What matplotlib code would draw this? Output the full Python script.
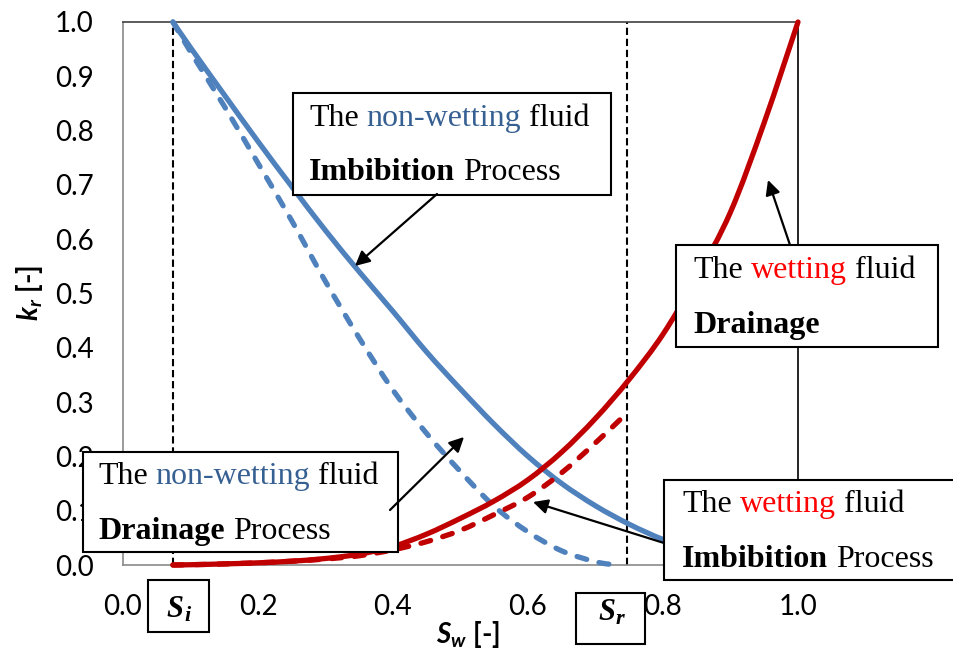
import matplotlib
matplotlib.use('Agg')
import matplotlib.pyplot as plt
from matplotlib.patches import Rectangle, FancyArrowPatch, PathPatch
from matplotlib.path import Path

W, H = 954, 654

# axis ticks
sw_ticks = [0.0, 0.2, 0.4, 0.6, 0.8, 1.0]
sw_tick_labels = ['0.0', '0.2', '0.4', '0.6', '0.8', '1.0']
kr_ticks = [0.0, 0.1, 0.2, 0.3, 0.4, 0.5, 0.6, 0.7, 0.8, 0.9, 1.0]
kr_tick_labels = ['0.0', '0.1', '0.2', '0.3', '0.4', '0.5', '0.6', '0.7', '0.8', '0.9', '1.0']

# end points (irreducible / residual saturation)
sw_i = 0.074
sw_r = 0.746

# non-wetting fluid, imbibition (solid blue)
sw_nw_imb = [0.074, 0.1, 0.15, 0.2, 0.25, 0.3, 0.35, 0.4, 0.45, 0.5, 0.55, 0.6,
             0.65, 0.7, 0.75, 0.8, 0.85, 0.9, 0.95]
kr_nw_imb = [1.0, 0.953, 0.866, 0.780, 0.697, 0.616, 0.540, 0.467, 0.392, 0.324,
             0.259, 0.200, 0.150, 0.109, 0.075, 0.047, 0.026, 0.012, 0.003]

# non-wetting fluid, drainage (dashed blue)
sw_nw_dr = [0.074, 0.1, 0.15, 0.2, 0.25, 0.3, 0.35, 0.4, 0.45, 0.5, 0.55, 0.6,
            0.65, 0.7, 0.73]
kr_nw_dr = [1.0, 0.945, 0.845, 0.74, 0.634, 0.522, 0.418, 0.322, 0.242, 0.172,
            0.108, 0.061, 0.026, 0.006, 0.0]

# wetting fluid, drainage (solid red)
sw_w_dr = [0.074, 0.1, 0.15, 0.2, 0.25, 0.3, 0.35, 0.4, 0.45, 0.5, 0.55, 0.6,
           0.65, 0.7, 0.75, 0.8, 0.85, 0.9, 0.95, 1.0]
kr_w_dr = [0.0, 0.0005, 0.002, 0.004, 0.007, 0.012, 0.020, 0.034, 0.057, 0.086,
           0.118, 0.157, 0.208, 0.27, 0.342, 0.425, 0.53, 0.65, 0.815, 1.0]

# wetting fluid, imbibition (dashed red)
sw_w_imb = [0.074, 0.1, 0.15, 0.2, 0.25, 0.3, 0.35, 0.4, 0.45, 0.5, 0.55, 0.6,
            0.65, 0.7, 0.74]
kr_w_imb = [0.0, 0.0005, 0.002, 0.004, 0.007, 0.011, 0.017, 0.028, 0.043, 0.064,
            0.093, 0.125, 0.17, 0.225, 0.272]

BLUE = '#4F81BD'
RED = '#C00000'
TXT_BLUE = '#376092'
TXT_RED = '#FF0000'
SERIF = 'Liberation Serif'


def fx(px):
    return px / W


def fy(py):
    return 1 - py / H


plt.rcParams['font.family'] = 'Lato'
plt.rcParams['mathtext.fontset'] = 'custom'
plt.rcParams['mathtext.rm'] = 'Lato'
plt.rcParams['mathtext.bf'] = 'Lato:bold'
plt.rcParams['mathtext.it'] = 'Lato:italic'
plt.rcParams['mathtext.bfit'] = 'Lato:italic:bold'

fig = plt.figure(figsize=(W / 100, H / 100), dpi=100)
ax = fig.add_axes([fx(123), fy(565), fx(798) - fx(123), fy(22) - fy(565)])


def smooth_line(xs, ys, color, dashed=False):
    # excel-style smoothed line: bezier segments through the data points
    n = len(xs)
    verts = [(xs[0], ys[0])]
    codes = [Path.MOVETO]
    for i in range(n - 1):
        a = max(i - 1, 0)
        b = min(i + 2, n - 1)
        c1 = (xs[i] + (xs[i + 1] - xs[a]) / 6, ys[i] + (ys[i + 1] - ys[a]) / 6)
        c2 = (xs[i + 1] - (xs[b] - xs[i]) / 6, ys[i + 1] - (ys[b] - ys[i]) / 6)
        verts += [c1, c2, (xs[i + 1], ys[i + 1])]
        codes += [Path.CURVE4] * 3
    p = PathPatch(Path(verts, codes), fill=False, edgecolor=color, lw=3.8,
                  capstyle='round', joinstyle='round', clip_on=False, zorder=3)
    if dashed:
        p.set_linestyle((0, (1.9, 2.4)))
    ax.add_patch(p)


smooth_line(sw_nw_imb, kr_nw_imb, BLUE)
smooth_line(sw_nw_dr, kr_nw_dr, BLUE, dashed=True)
smooth_line(sw_w_dr, kr_w_dr, RED)
smooth_line(sw_w_imb, kr_w_imb, RED, dashed=True)

for s in (sw_i, sw_r):
    ax.plot([s, s], [0, 1], color='black', lw=1.5, dashes=(3.5, 1.8), zorder=2)

ax.set_xlim(0, 1)
ax.set_ylim(0, 1)
ax.set_xticks(sw_ticks)
ax.set_xticklabels(sw_tick_labels)
ax.set_yticks(kr_ticks)
ax.set_yticklabels(kr_tick_labels)
ax.tick_params(length=0, labelsize=20)
ax.tick_params(axis='x', pad=21)
ax.tick_params(axis='y', pad=21)
ax.spines['left'].set_color('#8a8a8a')
ax.spines['bottom'].set_color('#8a8a8a')
ax.spines['top'].set_color('#404040')
ax.spines['right'].set_color('black')
for sp in ax.spines.values():
    sp.set_linewidth(1.2)

fig.text(fx(468), fy(634), r'$\mathbfit{S}_{\mathbfit{w}}$ [-]', fontsize=20,
         fontweight='bold', ha='center', va='center')
fig.text(fx(30), fy(293), r'$\mathbfit{k}_{\mathbfit{r}}$ [-]', fontsize=20,
         fontweight='bold', ha='center', va='center', rotation=90)

renderer = fig.canvas.get_renderer()


def box(x0, y0, x1, y1):
    fig.add_artist(Rectangle((fx(x0), fy(y1)), fx(x1) - fx(x0), fy(y0) - fy(y1),
                             transform=fig.transFigure, facecolor='white',
                             edgecolor='black', lw=1.5, zorder=5))


def rich(x, y, words, size=23):
    probe = fig.text(0, 0, 'a a', fontsize=size, family=SERIF)
    w1 = probe.get_window_extent(renderer).width
    probe.set_text('aa')
    space = w1 - probe.get_window_extent(renderer).width
    probe.remove()
    for word, color, weight in words:
        t = fig.text(fx(x), fy(y), word, fontsize=size, family=SERIF, color=color,
                     fontweight=weight, ha='left', va='baseline', zorder=6)
        x += t.get_window_extent(renderer).width + space


def arrow(x0, y0, x1, y1):
    fig.add_artist(FancyArrowPatch((fx(x0), fy(y0)), (fx(x1), fy(y1)),
                                   transform=fig.transFigure, arrowstyle='-|>',
                                   mutation_scale=22, lw=1.6, color='black',
                                   shrinkA=0, shrinkB=0, zorder=7))


# non-wetting imbibition
box(293, 93, 611, 195)
rich(309, 126, [('The', 'black', 'normal'), ('non-wetting', TXT_BLUE, 'normal'),
                ('fluid', 'black', 'normal')])
rich(309, 180, [('Imbibition', 'black', 'bold'), ('Process', 'black', 'normal')])
arrow(437, 194, 355, 266)

# wetting drainage
box(676, 245, 938, 347)
rich(693, 278, [('The', 'black', 'normal'), ('wetting', TXT_RED, 'normal'),
                ('fluid', 'black', 'normal')])
rich(693, 333, [('Drainage', 'black', 'bold')])
arrow(790, 245, 768, 180)

# non-wetting drainage
box(83, 452, 398, 552)
rich(98, 484, [('The', 'black', 'normal'), ('non-wetting', TXT_BLUE, 'normal'),
               ('fluid', 'black', 'normal')])
rich(98, 539, [('Drainage', 'black', 'bold'), ('Process', 'black', 'normal')])
arrow(390, 510, 464, 437)

# wetting imbibition
box(664, 480, 965, 580)
rich(682, 512, [('The', 'black', 'normal'), ('wetting', TXT_RED, 'normal'),
                ('fluid', 'black', 'normal')])
rich(682, 567, [('Imbibition', 'black', 'bold'), ('Process', 'black', 'normal')])
arrow(664, 543, 533, 502)


def sat_label(x0, y0, x1, y1, sub, base):
    box(x0, y0, x1, y1)
    t = fig.text(0, 0, 'S', fontsize=22, family=SERIF, fontweight='bold',
                 style='italic', ha='left', va='baseline', zorder=6)
    w = t.get_window_extent(renderer).width
    tx = (x0 + x1) / 2 - (w + 8) / 2
    t.set_position((fx(tx), fy(base)))
    fig.text(fx(tx + w + 1), fy(base + 4), sub, fontsize=16, family=SERIF,
             fontweight='bold', style='italic', ha='left', va='baseline', zorder=6)


sat_label(148, 580, 209, 632, 'i', 617)
sat_label(576, 593, 645, 644, 'r', 620)

fig.savefig('out.png', dpi=100)
